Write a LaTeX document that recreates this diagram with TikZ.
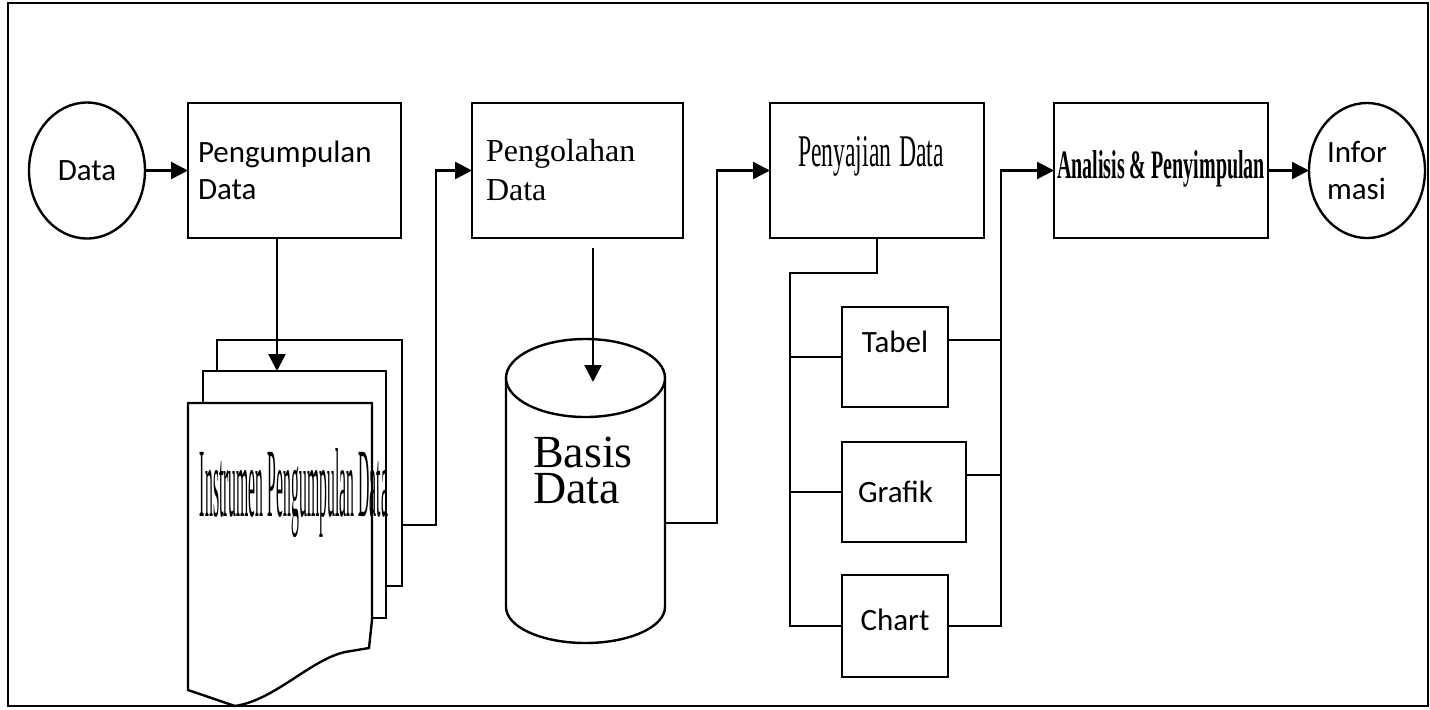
\documentclass[tikz,border=0pt]{standalone}
\usepackage{fontspec}
\setmainfont{Liberation Serif}
\newfontfamily\carlito{Carlito}
\usetikzlibrary{arrows.meta,shapes.geometric,positioning}
\tikzset{main node/.style={ellipse,draw,fill=white,minimum width=58pt,minimum height=68pt,inner sep=0pt,outer sep=0pt,font=\carlito\fontsize{15.5}{18.5}\selectfont},
         proc box/.style={rectangle,draw,fill=white,minimum width=106.5pt,minimum height=67.5pt,inner sep=0pt,outer sep=0pt},
         sub box/.style={rectangle,draw,fill=white,minimum height=50pt,inner sep=0pt,outer sep=0pt,font=\carlito\fontsize{15.5}{18.5}\selectfont},
         sheet/.style={rectangle,draw,fill=white,inner sep=0pt,outer sep=0pt},
         edge label/.style={rectangle,draw=none,fill=none,inner sep=0pt}
}

\begin{document}
\begin{tikzpicture}[-,>={Triangle[length=8.5pt,width=8.5pt]},
x=0.5pt,y=-0.5pt,
line width=1.2pt]

\useasboundingbox (0,0) rectangle (1430,709);
\draw[line width=1pt] (8,3) rectangle (1428,706);

% alur utama
\node [main node] (data) at (87,170.5) {Data};
\node [proc box,right=21.5pt of data,text width=96.5pt,inner xsep=5pt,align=left,font=\carlito\fontsize{15.5}{18.5}\selectfont] (pengumpulan) {Pengumpulan\\Data};
\node [proc box,minimum width=105.5pt,right=35.5pt of pengumpulan,text width=91.5pt,inner xsep=7pt,align=left,font=\fontsize{16}{19.5}\selectfont] (pengolahan) {Pengolahan\\Data};
\node [proc box,minimum width=107pt,right=43.5pt of pengolahan,text width=79pt,inner xsep=14pt,align=left,text depth=19pt] (penyajian) {\resizebox{73pt}{15pt}{Penyajian Data}};
\node [proc box,minimum width=107pt,right=35pt of penyajian,text depth=6.5pt] (analisis) {\resizebox{104pt}{14pt}{\bfseries Analisis \& Penyimpulan}};
\node [main node,minimum height=67.5pt,right=20.5pt of analisis,text width=40pt,align=left] (informasi) {Infor\\masi};

% tumpukan dokumen
\node [sheet,minimum width=92.5pt,minimum height=123pt] (back) at (309.5,463) {};
\node [sheet,minimum width=91.5pt,minimum height=123.5pt] (middle) at (294.5,494.5) {};
\draw[fill=white] (188,403) -- (372,403) -- (372,620) -- (369,648) -- (345,652)
  .. controls (310,660) and (275,700) .. (235,706) -- (188,690) -- cycle;
\node [edge label,anchor=base] (instrumen) at (294,516) {\resizebox{94pt}{34pt}{Instrumen Pengumpulan Data}};

% basis data
\draw[fill=white] (506,378) -- (506,607) arc[start angle=180,end angle=0,x radius=79.5,y radius=36] -- (665,378);
\draw[fill=white] (585.5,378) ellipse[x radius=79.5,y radius=39];
\coordinate (cyltop) at (593,382);
\coordinate (cylout) at (665,523);
\node [edge label,anchor=west,align=left,font=\fontsize{23}{18}\selectfont] (basis) at (532,470) {Basis\\Data};

% penyajian
\node [sub box,minimum width=53pt,text depth=15pt] (tabel) at (895,357) {Tabel};
\node [sub box,minimum width=62pt,text width=46pt,inner xsep=8pt,align=left] (grafik) at (904,492) {Grafik};
\node [sub box,minimum width=53pt,minimum height=51pt,text depth=6pt] (chart) at (895,626) {Chart};

% konektor
\draw[->] (data) -- (pengumpulan);
\draw[->] ([xshift=-8.75pt]pengumpulan.south) -- ([xshift=-8.75pt]pengumpulan.south |- middle.north);
\draw[->] ([yshift=-31pt]back.east) -- ++(17pt,0) |- (pengolahan.west);
\draw[->] ([xshift=7.75pt,yshift=-5pt]pengolahan.south) -- ([xshift=7.75pt]pengolahan.south |- cyltop);
\draw[->] (cylout) -- ++(26pt,0) |- (penyajian.west);
\draw (penyajian.south) -- ++(0,-17.5pt) -| ([xshift=-26pt]chart.west) -- (chart.west);
\draw (tabel.west) -- ++(-26pt,0);
\draw (grafik.west) -- ++(-26pt,0);
\draw ([yshift=8.5pt]tabel.east) -- ++(26.5pt,0);
\draw ([yshift=8.5pt]grafik.east) -- ++(17.5pt,0);
\draw[->] (chart.east) -- ++(26.5pt,0) |- (analisis.west);
\draw[->] (analisis) -- (informasi);

\end{tikzpicture}
\end{document}
